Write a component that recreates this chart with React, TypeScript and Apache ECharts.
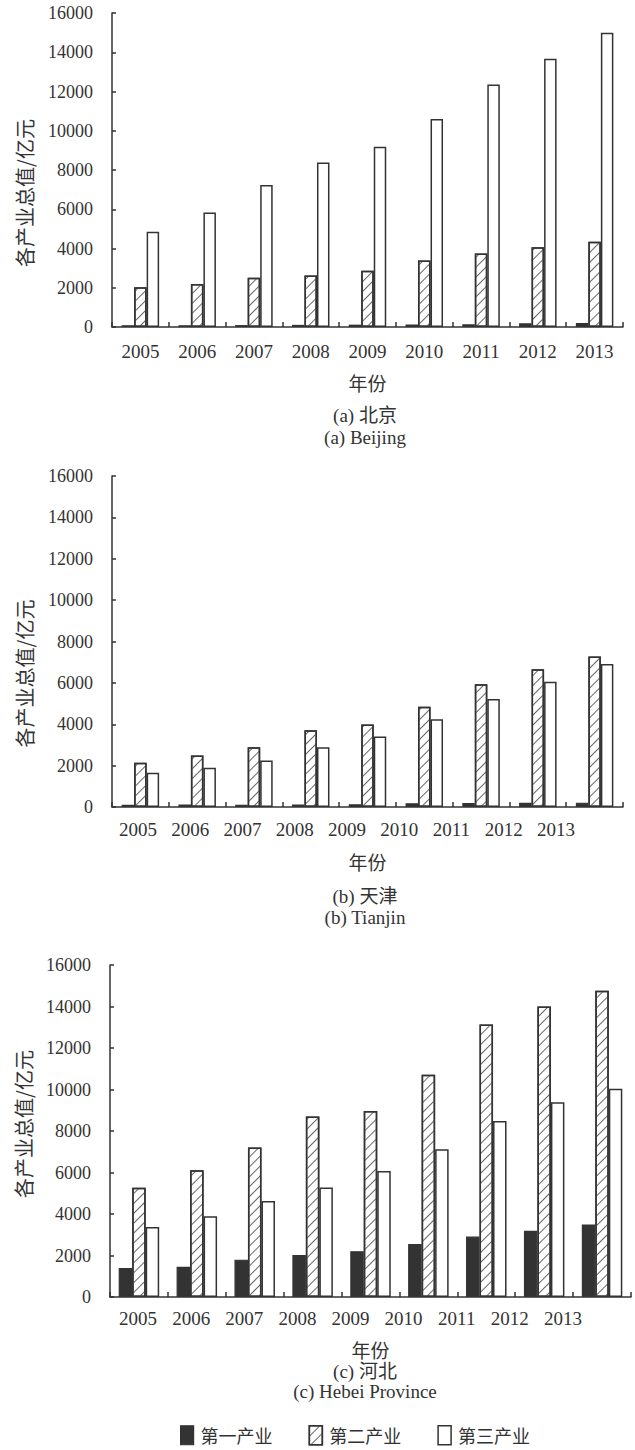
import React, { useEffect, useRef } from "react";
import * as echarts from "echarts";

// ---------- data (亿元) ----------
const years = ["2005", "2006", "2007", "2008", "2009", "2010", "2011", "2012", "2013"];
const seriesNames = ["第一产业", "第二产业", "第三产业"];
const yTicks = { min: 0, max: 16000, interval: 2000 };

const beijingPrimary = [90, 90, 100, 110, 120, 125, 135, 190, 200];
const beijingSecondary = [2030, 2190, 2510, 2630, 2860, 3390, 3750, 4060, 4350];
const beijingTertiary = [4850, 5840, 7240, 8380, 9180, 10600, 12360, 13670, 14990];

const tianjinPrimary = [110, 120, 110, 120, 130, 180, 190, 200, 210];
const tianjinSecondary = [2140, 2490, 2890, 3710, 3990, 4840, 5930, 6660, 7280];
const tianjinTertiary = [1660, 1900, 2250, 2890, 3410, 4240, 5220, 6060, 6910];

const hebeiPrimary = [1400, 1460, 1800, 2030, 2210, 2560, 2910, 3190, 3500];
const hebeiSecondary = [5270, 6110, 7200, 8700, 8960, 10710, 13130, 14000, 14760];
const hebeiTertiary = [3370, 3890, 4630, 5280, 6070, 7120, 8480, 9380, 10040];

const yAxisTitle = "各产业总值/亿元";
const xAxisTitle = "年份";
const captions = [
  ["(a) 北京", "(a) Beijing"],
  ["(b) 天津", "(b) Tianjin"],
  ["(c) 河北", "(c) Hebei Province"],
];

// ---------- styles ----------
const INK = "#333";
const SERIF = "Liberation Serif, Times New Roman, Noto Sans CJK SC, serif";
const CJK = "Noto Sans CJK SC, sans-serif";

const hatch = {
  symbol: "rect",
  symbolSize: 1,
  dashArrayX: [1, 0],
  dashArrayY: [1, 6],
  rotation: -Math.PI / 4,
  color: "#666",
  backgroundColor: "#fff",
};

const barStyles = [
  { color: INK, borderColor: INK, borderWidth: 1.2 },
  { color: "#fff", borderColor: INK, borderWidth: 1.5, decal: hatch },
  { color: "#fff", borderColor: INK, borderWidth: 1.5 },
];

const panels = [
  {
    grid: { left: 112, top: 13, width: 511, height: 314 },
    labelGrid: null as null | { left: number; top: number; width: number; height: number },
    labelMargin: 15,
    values: [beijingPrimary, beijingSecondary, beijingTertiary],
    barWidth: 12.5,
    namePad: [0, 46, 0, 0],
    nameGap: 78,
    xNameGap: 46,
    captionY: [415, 437],
  },
  {
    grid: { left: 112, top: 476, width: 511, height: 331 },
    labelGrid: { left: 112, top: 476, width: 470, height: 331 },
    labelMargin: 13,
    values: [tianjinPrimary, tianjinSecondary, tianjinTertiary],
    barWidth: 12.5,
    namePad: [0, 64, 0, 0],
    nameGap: 78,
    xNameGap: 45,
    captionY: [896, 917],
  },
  {
    grid: { left: 110, top: 965, width: 521, height: 332 },
    labelGrid: { left: 111.5, top: 965, width: 478, height: 332 },
    labelMargin: 12,
    values: [hebeiPrimary, hebeiSecondary, hebeiTertiary],
    barWidth: 13.5,
    namePad: [0, 0, 0, 14],
    nameGap: 77,
    xNameGap: 43,
    captionY: [1371, 1391],
  },
];

function buildOption() {
  const grid: any[] = [];
  const xAxis: any[] = [];
  const yAxis: any[] = [];
  const series: any[] = [];
  const graphic: any[] = [];

  panels.forEach((p, i) => {
    grid.push({ ...p.grid, containLabel: false });
    xAxis.push({
      type: "category",
      gridIndex: i,
      data: years,
      name: xAxisTitle,
      nameLocation: "middle",
      nameGap: p.xNameGap,
      nameTextStyle: { fontFamily: CJK, fontSize: 19, color: INK },
      axisLine: { lineStyle: { color: INK, width: 1.5 } },
      axisTick: { show: true, inside: true, length: 5, lineStyle: { color: INK, width: 1.5 } },
      axisLabel: {
        show: p.labelGrid === null,
        margin: p.labelMargin,
        interval: 0,
        fontFamily: SERIF,
        fontSize: 19,
        color: INK,
      },
      splitLine: { show: false },
    });
    yAxis.push({
      type: "value",
      gridIndex: i,
      min: yTicks.min,
      max: yTicks.max,
      interval: yTicks.interval,
      name: yAxisTitle,
      nameLocation: "middle",
      nameRotate: 90,
      nameGap: p.nameGap,
      nameTextStyle: { fontFamily: CJK, fontSize: 20, color: INK, padding: p.namePad },
      axisLine: { show: true, lineStyle: { color: INK, width: 1.5 } },
      axisTick: { show: true, inside: true, length: 4, lineStyle: { color: INK, width: 1.5 } },
      axisLabel: {
        margin: 19,
        fontFamily: SERIF,
        fontSize: 18,
        color: INK,
        formatter: (v: number) => String(v),
      },
      splitLine: { show: false },
    });
    p.values.forEach((vals, k) => {
      series.push({
        type: "bar",
        name: seriesNames[k],
        xAxisIndex: i,
        yAxisIndex: i,
        data: vals,
        barWidth: p.barWidth,
        barGap: "0%",
        itemStyle: barStyles[k],
        emphasis: { disabled: true },
      });
    });
    captions[i].forEach((line, j) => {
      graphic.push({
        type: "text",
        x: 365,
        y: p.captionY[j],
        style: {
          text: line,
          fontFamily: SERIF,
          fontSize: 19,
          fill: INK,
          align: "center",
          verticalAlign: "middle",
        },
      });
    });
  });

  // separate label-only axes (the printed year labels are offset from the bar groups)
  panels.forEach((p) => {
    if (!p.labelGrid) return;
    const gi = grid.length;
    grid.push({ ...p.labelGrid, containLabel: false });
    xAxis.push({
      type: "category",
      gridIndex: gi,
      data: years,
      axisLine: { show: false },
      axisTick: { show: false },
      axisLabel: {
        margin: p.labelMargin,
        interval: 0,
        fontFamily: SERIF,
        fontSize: 19,
        color: INK,
      },
      splitLine: { show: false },
    });
    yAxis.push({ type: "value", gridIndex: gi, min: 0, max: 1, show: false });
  });

  return {
    animation: false,
    backgroundColor: "#fff",
    grid,
    xAxis,
    yAxis,
    series,
    graphic,
    legend: {
      data: seriesNames.map((n, k) => ({ name: n, itemStyle: barStyles[k] })),
      left: 175,
      top: 1420,
      icon: "rect",
      itemWidth: 13,
      itemHeight: 19,
      itemGap: 36,
      selectedMode: false,
      textStyle: { fontFamily: CJK, fontSize: 18, color: INK, padding: [0, 0, 0, 2] },
    },
  };
}

export default function App() {
  const ref = useRef<HTMLDivElement>(null);
  useEffect(() => {
    if (!ref.current) return;
    const chart = echarts.init(ref.current, null, { renderer: "svg" });
    chart.setOption(buildOption() as any);
    return () => chart.dispose();
  }, []);
  return (
    <div
      ref={ref}
      style={{ position: "absolute", left: 0, top: 0, width: 635, height: 1450, background: "#fff" }}
    />
  );
}
